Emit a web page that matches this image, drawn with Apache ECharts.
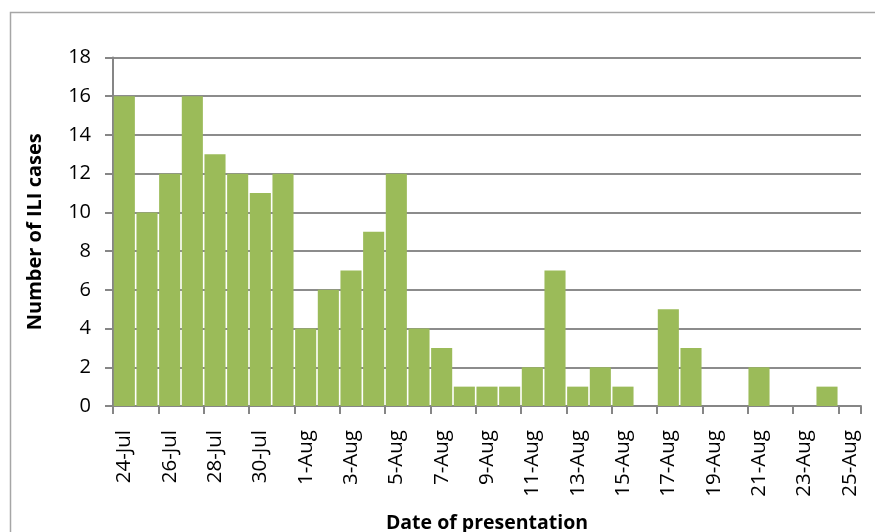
<!DOCTYPE html>
<html>
<head>
<meta charset="utf-8">
<script src="https://cdn.jsdelivr.net/npm/echarts@6/dist/echarts.min.js"></script>
<style>
  html, body { margin: 0; padding: 0; background: #fff; }
  #chart { width: 875px; height: 532px; }
</style>
</head>
<body>
<div id="chart"></div>
<script>
// Daily ILI case counts by date of presentation (24 Jul – 25 Aug)
const dates = [
  '24-Jul', '25-Jul', '26-Jul', '27-Jul', '28-Jul', '29-Jul', '30-Jul', '31-Jul',
  '1-Aug', '2-Aug', '3-Aug', '4-Aug', '5-Aug', '6-Aug', '7-Aug', '8-Aug',
  '9-Aug', '10-Aug', '11-Aug', '12-Aug', '13-Aug', '14-Aug', '15-Aug', '16-Aug',
  '17-Aug', '18-Aug', '19-Aug', '20-Aug', '21-Aug', '22-Aug', '23-Aug', '24-Aug',
  '25-Aug'
];
const cases = [
  16, 10, 12, 16, 13, 12, 11, 12,
  4, 6, 7, 9, 12, 4, 3, 1,
  1, 1, 2, 7, 1, 2, 1, 0,
  5, 3, 0, 0, 2, 0, 0, 1,
  0
];
const yTicks = { min: 0, max: 18, interval: 2 };

const FONT = '"Open Sans", Lato, sans-serif';
const chart = echarts.init(document.getElementById('chart'), null, { renderer: 'canvas' });

chart.setOption({
  animation: false,
  backgroundColor: '#ffffff',
  graphic: [{
    type: 'rect',
    shape: { x: 10.5, y: 12.5, width: 900, height: 560 },
    style: { fill: 'none', stroke: '#a6a6a6', lineWidth: 1.5 },
    silent: true,
    z: -1
  }],
  grid: { left: 113, right: 14, top: 57.5, bottom: 126, outerBoundsMode: 'none', containLabel: false },
  xAxis: {
    type: 'category',
    data: dates,
    name: 'Date of presentation',
    nameLocation: 'middle',
    nameGap: 107,
    nameTextStyle: { fontFamily: FONT, fontWeight: 'bold', fontSize: 19.5, color: '#000' },
    axisLine: { lineStyle: { color: '#868686', width: 2 } },
    axisTick: { show: true, interval: 1, length: 8, lineStyle: { color: '#868686', width: 2 } },
    axisLabel: {
      interval: 1,
      rotate: 90,
      margin: 24,
      fontFamily: FONT,
      fontSize: 20.5,
      color: '#000'
    },
    splitLine: { show: false }
  },
  yAxis: {
    type: 'value',
    min: yTicks.min,
    max: yTicks.max,
    interval: yTicks.interval,
    name: 'Number of ILI cases',
    nameLocation: 'middle',
    nameGap: 68,
    nameRotate: 90,
    nameTextStyle: { fontFamily: FONT, fontWeight: 'bold', fontSize: 20, color: '#000' },
    axisLine: { show: true, lineStyle: { color: '#868686', width: 2 } },
    axisTick: { show: true, length: 8, lineStyle: { color: '#868686', width: 2 } },
    axisLabel: { margin: 22, fontFamily: FONT, fontSize: 20, color: '#000' },
    splitLine: { show: true, lineStyle: { color: '#8c8c8c', width: 2 } }
  },
  series: [{
    type: 'bar',
    data: cases,
    barCategoryGap: '7%',
    itemStyle: { color: '#9bbb59' },
    z: 3
  }]
});
</script>
</body>
</html>
